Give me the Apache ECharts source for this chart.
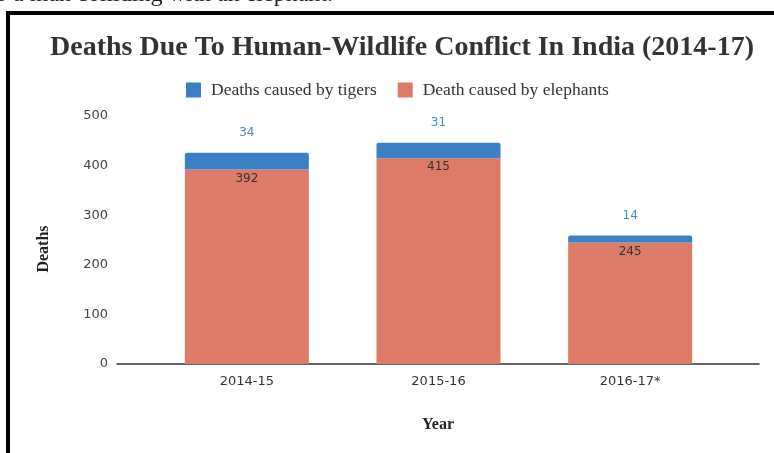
<!DOCTYPE html>
<html>
<head>
<meta charset="utf-8">
<script src="https://cdn.jsdelivr.net/npm/echarts@6/dist/echarts.min.js"></script>
<style>
  html, body { margin: 0; padding: 0; background: #fff; }
  #chart { width: 774px; height: 453px; }
</style>
</head>
<body>
<div id="chart"></div>
<script>
// Deaths from human-wildlife conflict in India, by year
const years = ['2014-15', '2015-16', '2016-17*'];
const elephantDeaths = [392, 415, 245];
const tigerDeaths = [34, 31, 14];
const yTicks = { min: 0, max: 500, interval: 100 };

const serif = '"Liberation Serif", "DejaVu Serif", serif';
const sans = '"DejaVu Sans", sans-serif';

const chart = echarts.init(document.getElementById('chart'));
chart.setOption({
  backgroundColor: '#fff',
  animation: false,
  title: {
    text: 'Deaths Due To Human-Wildlife Conflict In India (2014-17)',
    left: 45,
    top: 29,
    textStyle: { fontFamily: serif, fontSize: 28, fontWeight: 'bold', color: '#333' }
  },
  legend: {
    data: ['Deaths caused by tigers', 'Death caused by elephants'],
    top: 76,
    left: 181,
    itemWidth: 15,
    itemHeight: 15,
    itemGap: 21,
    icon: 'rect',
    textStyle: { fontFamily: serif, fontSize: 17.5, color: '#333', padding: [0, 0, 0, 5] }
  },
  graphic: [
    {
      type: 'rect',
      shape: { x: 8, y: 13, width: 820, height: 520 },
      style: { fill: 'none', stroke: '#000', lineWidth: 4 },
      silent: true
    },
    {
      type: 'text',
      right: 441,
      top: -17,
      style: { text: 'to a man colliding with an elephant.', font: '24px ' + serif, fill: '#222' },
      silent: true
    }
  ],
  grid: [
    { left: 151, right: 48, top: 116, bottom: 89 },
    { left: 117, right: 15, top: 116, bottom: 89 }
  ],
  xAxis: [
    {
      type: 'category',
      gridIndex: 0,
      data: years,
      axisLine: { show: false },
      axisTick: { show: false },
      axisLabel: { fontFamily: sans, fontSize: 13, color: '#333', margin: 11 }
    },
    {
      type: 'category',
      gridIndex: 1,
      data: [''],
      name: 'Year',
      nameLocation: 'middle',
      nameGap: 53,
      nameTextStyle: { fontFamily: serif, fontSize: 16, fontWeight: 'bold', color: '#222' },
      axisLine: { show: true, lineStyle: { color: '#333', width: 1.5 } },
      axisTick: { show: false },
      axisLabel: { show: false }
    }
  ],
  yAxis: [
    {
      type: 'value',
      gridIndex: 0,
      min: yTicks.min, max: yTicks.max, interval: yTicks.interval,
      axisLine: { show: false },
      axisTick: { show: false },
      axisLabel: { show: false },
      splitLine: { show: false }
    },
    {
      type: 'value',
      gridIndex: 1,
      min: yTicks.min, max: yTicks.max, interval: yTicks.interval,
      name: 'Deaths',
      nameLocation: 'middle',
      nameRotate: 90,
      nameGap: 65,
      nameTextStyle: { fontFamily: serif, fontSize: 16, fontWeight: 'bold', color: '#222', padding: [0, 0, 0, -18] },
      axisLine: { show: false },
      axisTick: { show: false },
      axisLabel: { fontFamily: sans, fontSize: 13, color: '#444', margin: 9 },
      splitLine: { show: false }
    }
  ],
  series: [
    {
      name: 'Death caused by elephants',
      type: 'bar',
      xAxisIndex: 0,
      yAxisIndex: 0,
      stack: 'deaths',
      barWidth: 124,
      data: elephantDeaths,
      itemStyle: { color: '#dd7b69' },
      label: {
        show: true,
        position: 'insideTop',
        distance: 3,
        fontFamily: sans,
        fontSize: 12,
        color: '#333'
      }
    },
    {
      name: 'Deaths caused by tigers',
      type: 'bar',
      xAxisIndex: 0,
      yAxisIndex: 0,
      stack: 'deaths',
      barWidth: 124,
      data: tigerDeaths,
      itemStyle: { color: '#3b80c4', borderRadius: [2, 2, 0, 0] },
      label: {
        show: true,
        position: 'top',
        distance: 14,
        fontFamily: sans,
        fontSize: 12,
        color: '#4a88c8'
      }
    }
  ]
});
</script>
</body>
</html>
